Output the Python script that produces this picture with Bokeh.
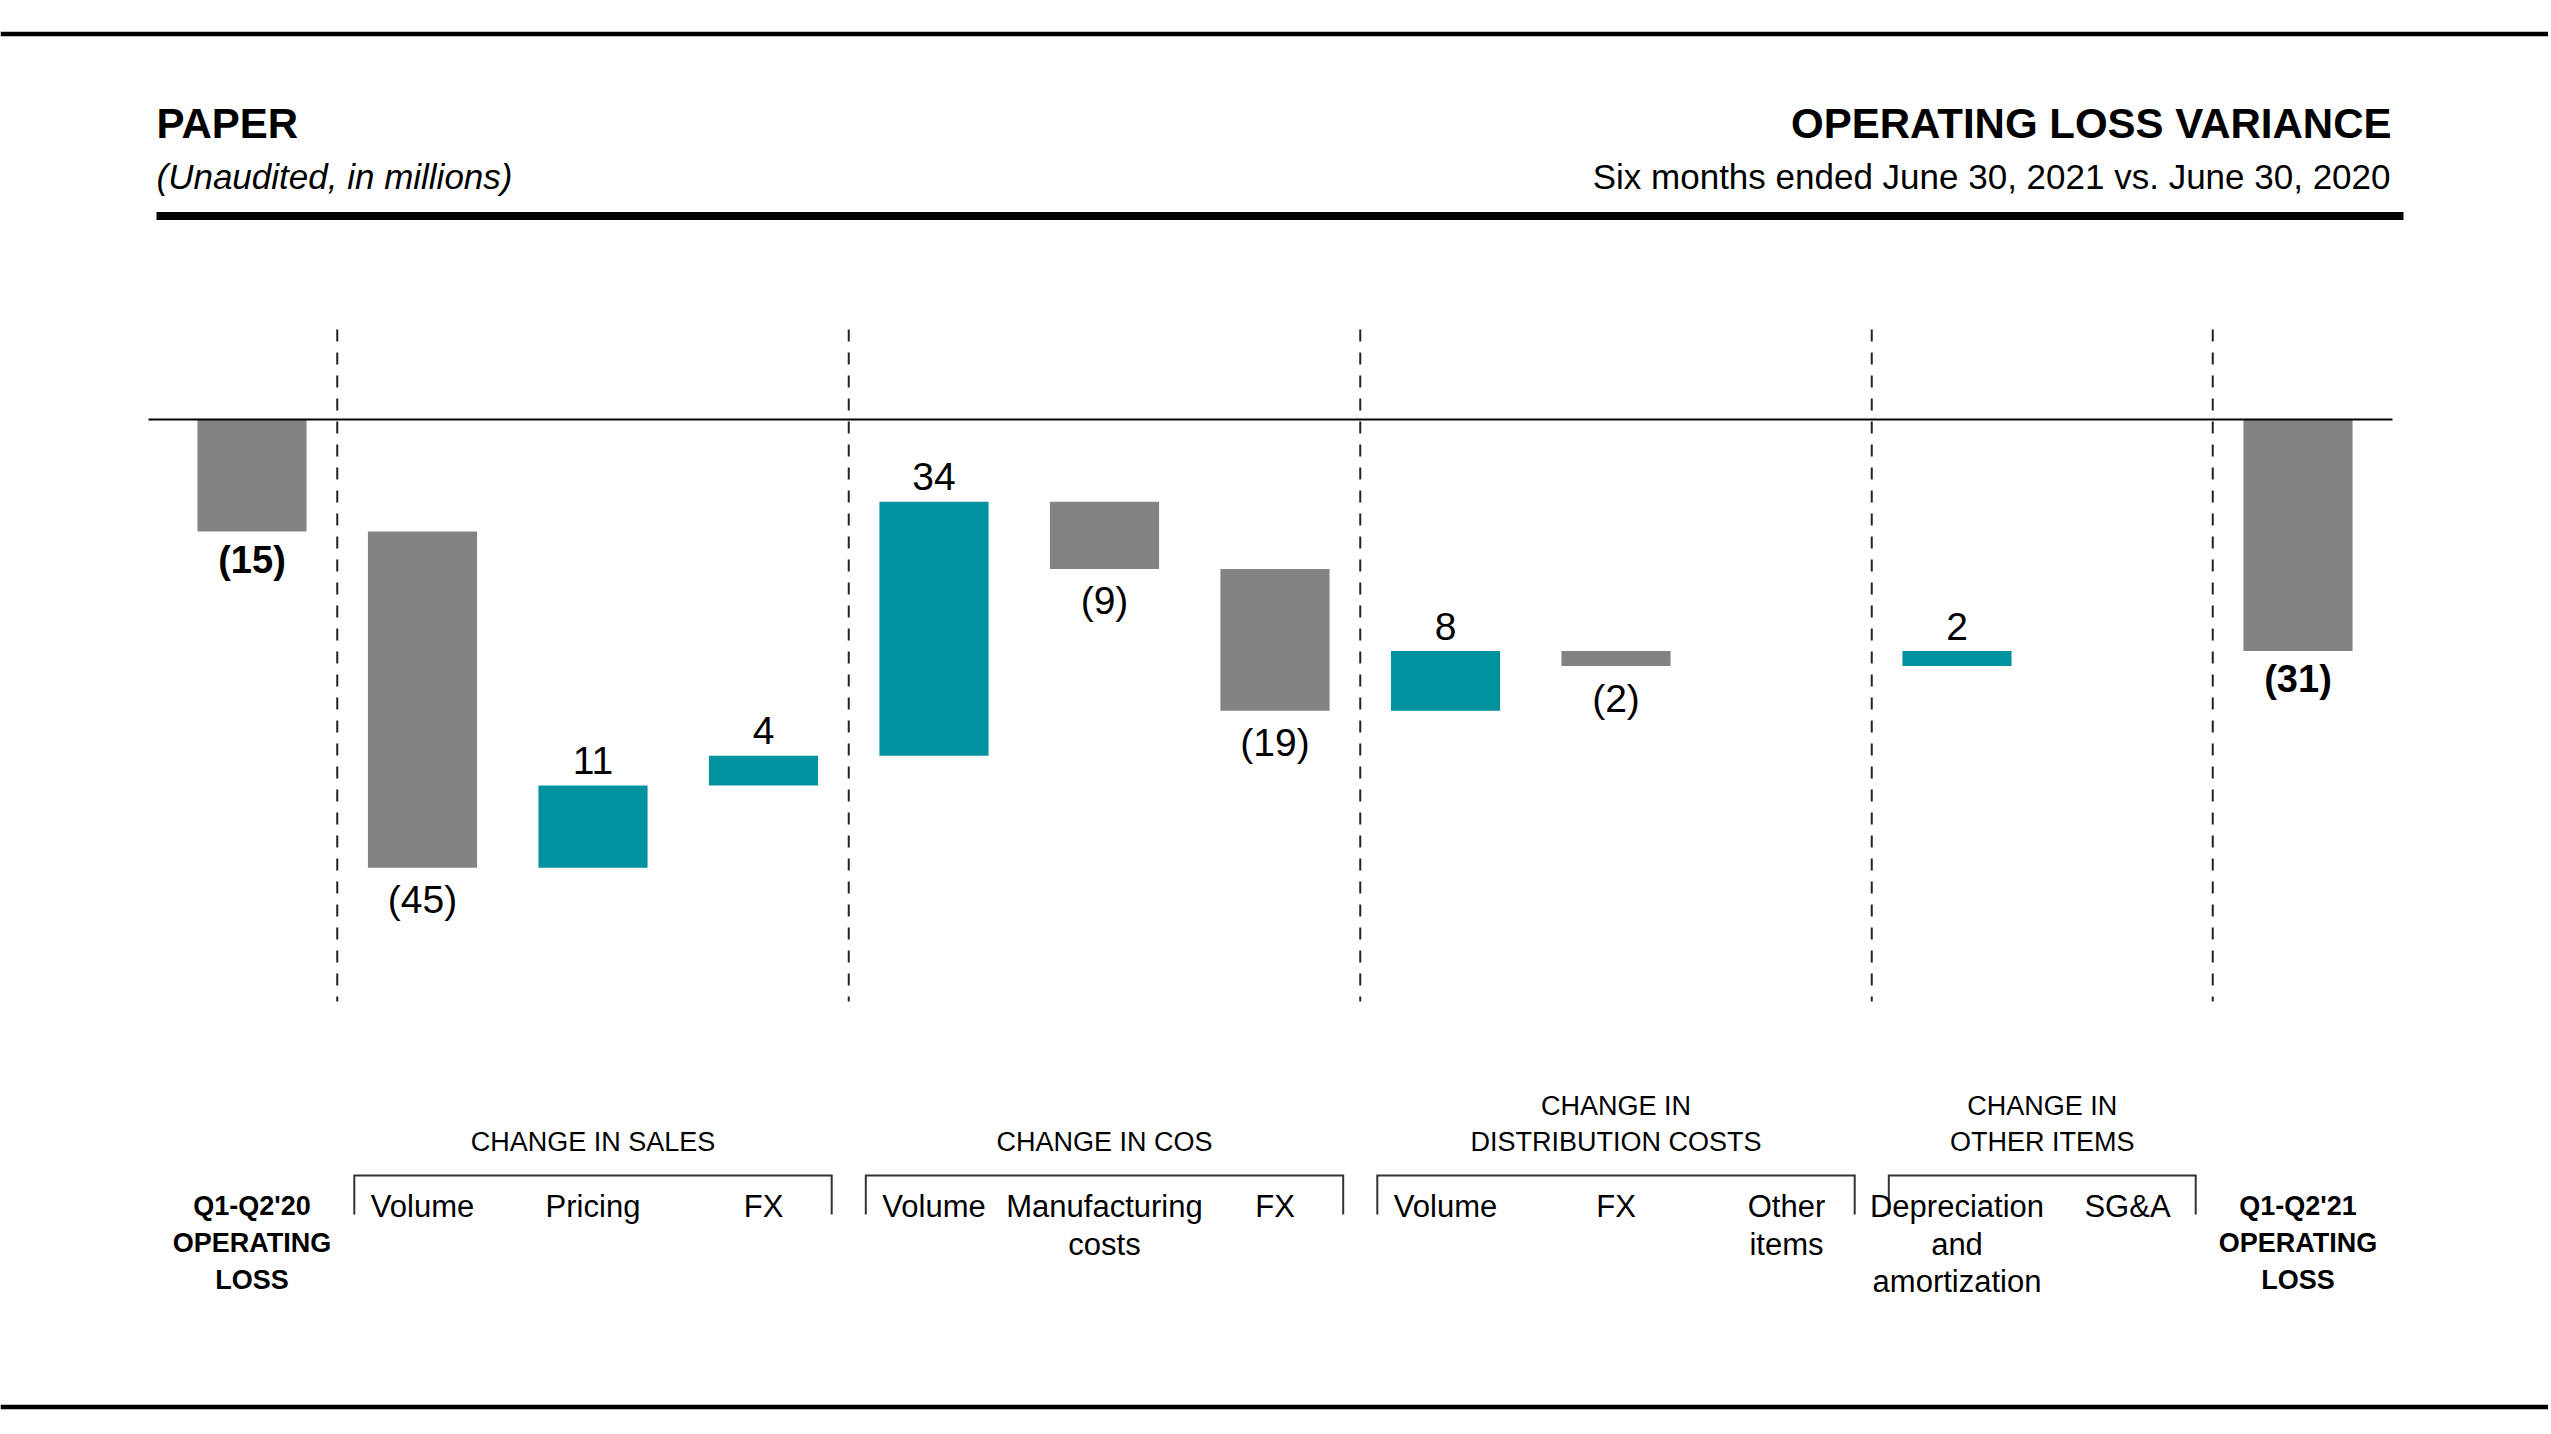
from bokeh.plotting import figure
from bokeh.models import Range1d, ColumnDataSource
from bokeh.embed import file_html
from bokeh.resources import INLINE
from bokeh.core.properties import value

# ---------------- data ----------------
categories = [
    "Q1-Q2'20\nOPERATING\nLOSS",
    "Volume", "Pricing", "FX",
    "Volume", "Manufacturing\ncosts", "FX",
    "Volume", "FX", "Other\nitems",
    "Depreciation\nand\namortization", "SG&A",
    "Q1-Q2'21\nOPERATING\nLOSS",
]
values = [-15, -45, 11, 4, 34, -9, -19, 8, -2, 0, 2, 0, -31]
is_total = [True, False, False, False, False, False, False,
            False, False, False, False, False, True]
group_titles = ["CHANGE IN SALES", "CHANGE IN COS",
                "CHANGE IN\nDISTRIBUTION COSTS", "CHANGE IN\nOTHER ITEMS"]
group_sizes = [3, 3, 3, 2]

title_left = "PAPER"
subtitle_left = "(Unaudited, in millions)"
title_right = "OPERATING LOSS VARIANCE"
subtitle_right = "Six months ended June 30, 2021 vs. June 30, 2020"

# ---------------- style / layout ----------------
TEAL = "#00939f"
GRAY = "#838383"
SANS = "Liberation Sans"
PAGE_W, PAGE_H = 2548, 1430
SLOT_PX = 170.5      # px per category slot
FIRST_PX = 251.5     # page x of first category centre
ZERO_PX = 419        # page y of the zero line
UNIT_PX = 7.47       # px per million
BAR_W = 0.64

x_rng = Range1d((0 - FIRST_PX) / SLOT_PX, (PAGE_W - FIRST_PX) / SLOT_PX)
y_rng = Range1d((ZERO_PX - PAGE_H) / UNIT_PX, ZERO_PX / UNIT_PX)

p = figure(width=PAGE_W, height=PAGE_H, x_range=x_rng, y_range=y_rng,
           output_backend="svg", toolbar_location=None, tools="",
           x_axis_location=None, y_axis_location=None, min_border=0)
p.grid.visible = False
p.outline_line_color = None
p.background_fill_color = "white"
p.border_fill_color = "white"
p.extra_x_ranges = {"px": Range1d(0, PAGE_W)}
p.extra_y_ranges = {"py": Range1d(PAGE_H, 0)}

# ---------------- waterfall ----------------
idx = list(range(len(values)))
bottoms, tops, colors = [], [], []
running = 0
for v, tot in zip(values, is_total):
    if tot:
        b, t = 0, v
        running = v
    else:
        b, t = running, running + v
        running += v
    bottoms.append(b)
    tops.append(t)
    colors.append(GRAY if (tot or v < 0) else TEAL)

keep = [i for i, v in zip(idx, values) if v != 0]
bar_src = ColumnDataSource(dict(x=keep,
                                top=[tops[i] for i in keep],
                                bottom=[bottoms[i] for i in keep],
                                color=[colors[i] for i in keep]))
p.vbar(x="x", top="top", bottom="bottom", width=BAR_W, source=bar_src,
       fill_color="color", line_color=None)

# zero line
p.segment(x0=[148], x1=[2392], y0=[0], y1=[0], x_range_name="px",
          line_color="black", line_width=2)

# group boundaries
bounds = [0.5]
for s in group_sizes:
    bounds.append(bounds[-1] + s)
p.segment(x0=bounds, x1=bounds, y0=[329] * len(bounds), y1=[1001] * len(bounds),
          y_range_name="py", line_color="#222222", line_width=2, line_dash="12 11")

# brackets
xs, ys = [], []
for a, b in zip(bounds[:-1], bounds[1:]):
    xs.append([a + 0.1, a + 0.1, b - 0.1, b - 0.1])
    ys.append([1214, 1175, 1175, 1214])
p.multi_line(xs=xs, ys=ys, y_range_name="py", line_color="#333333",
             line_width=2, line_join="miter")

# group titles
gx, gy, gt = [], [], []
for a, b, title in zip(bounds[:-1], bounds[1:], group_titles):
    lines = title.split("\n")
    n = len(lines)
    for j, ln in enumerate(lines):
        gx.append((a + b) / 2)
        gy.append(1141.5 - 36.5 * (n - 1 - j))
        gt.append(ln)
p.text(x=gx, y=gy, text=gt, y_range_name="py", text_align="center",
       text_baseline="middle", text_font=value(SANS),
       text_font_size="27px", text_color="black")

# category labels
cx_r, cy_r, ct_r, cx_b, cy_b, ct_b = [], [], [], [], [], []
for i, (cat, tot) in enumerate(zip(categories, is_total)):
    for j, ln in enumerate(cat.split("\n")):
        if tot:
            cx_b.append(i); cy_b.append(1205 + 37.3 * j); ct_b.append(ln)
        else:
            cx_r.append(i); cy_r.append(1206 + 37.5 * j); ct_r.append(ln)
p.text(x=cx_r, y=cy_r, text=ct_r, y_range_name="py", text_align="center",
       text_baseline="middle", text_font=value(SANS),
       text_font_size="31px", text_color="black")
p.text(x=cx_b, y=cy_b, text=ct_b, y_range_name="py", text_align="center",
       text_baseline="middle", text_font=value(SANS),
       text_font_size="27px", text_font_style="bold", text_color="black")

# value labels
pos = dict(x=[], y=[], t=[])
neg = dict(x=[], y=[], t=[])
negb = dict(x=[], y=[], t=[])
for i, (v, b, t, tot) in enumerate(zip(values, bottoms, tops, is_total)):
    if v == 0:
        continue
    if v > 0:
        d = pos; yv = max(b, t); txt = f"{v}"
    else:
        d = negb if tot else neg; yv = min(b, t); txt = f"({abs(v)})"
    d["x"].append(i); d["y"].append(yv); d["t"].append(txt)

p.text(x=pos["x"], y=pos["y"], text=pos["t"], y_offset=-25, text_align="center",
       text_baseline="middle", text_font=value(SANS), text_font_size="39px",
       text_color="black")
p.text(x=neg["x"], y=neg["y"], text=neg["t"], y_offset=32, text_align="center",
       text_baseline="middle", text_font=value(SANS), text_font_size="39px",
       text_color="black")
p.text(x=negb["x"], y=negb["y"], text=negb["t"], y_offset=28, text_align="center",
       text_baseline="middle", text_font=value(SANS), text_font_size="38px",
       text_font_style="bold", text_color="black")

# ---------------- header ----------------
p.segment(x0=[0, 0], x1=[2551, 2551], y0=[33.5, 1406.5], y1=[33.5, 1406.5],
          x_range_name="px", y_range_name="py", line_color="black", line_width=4.5)
p.segment(x0=[156], x1=[2403], y0=[215.5], y1=[215.5],
          x_range_name="px", y_range_name="py", line_color="black", line_width=8)

p.text(x=[156], y=[123], text=[title_left], x_range_name="px", y_range_name="py",
       text_align="left", text_baseline="middle", text_font=value(SANS),
       text_font_size="42px", text_font_style="bold", text_color="black")
p.text(x=[156], y=[176], text=[subtitle_left], x_range_name="px", y_range_name="py",
       text_align="left", text_baseline="middle", text_font=value(SANS),
       text_font_size="35px", text_font_style="italic", text_color="black")
p.text(x=[2391], y=[123], text=[title_right], x_range_name="px", y_range_name="py",
       text_align="right", text_baseline="middle", text_font=value(SANS),
       text_font_size="42px", text_font_style="bold", text_color="black")
p.text(x=[2390], y=[176], text=[subtitle_right], x_range_name="px", y_range_name="py",
       text_align="right", text_baseline="middle", text_font=value(SANS),
       text_font_size="35px", text_color="black")

open("out.html", "w").write(file_html(p, INLINE))
